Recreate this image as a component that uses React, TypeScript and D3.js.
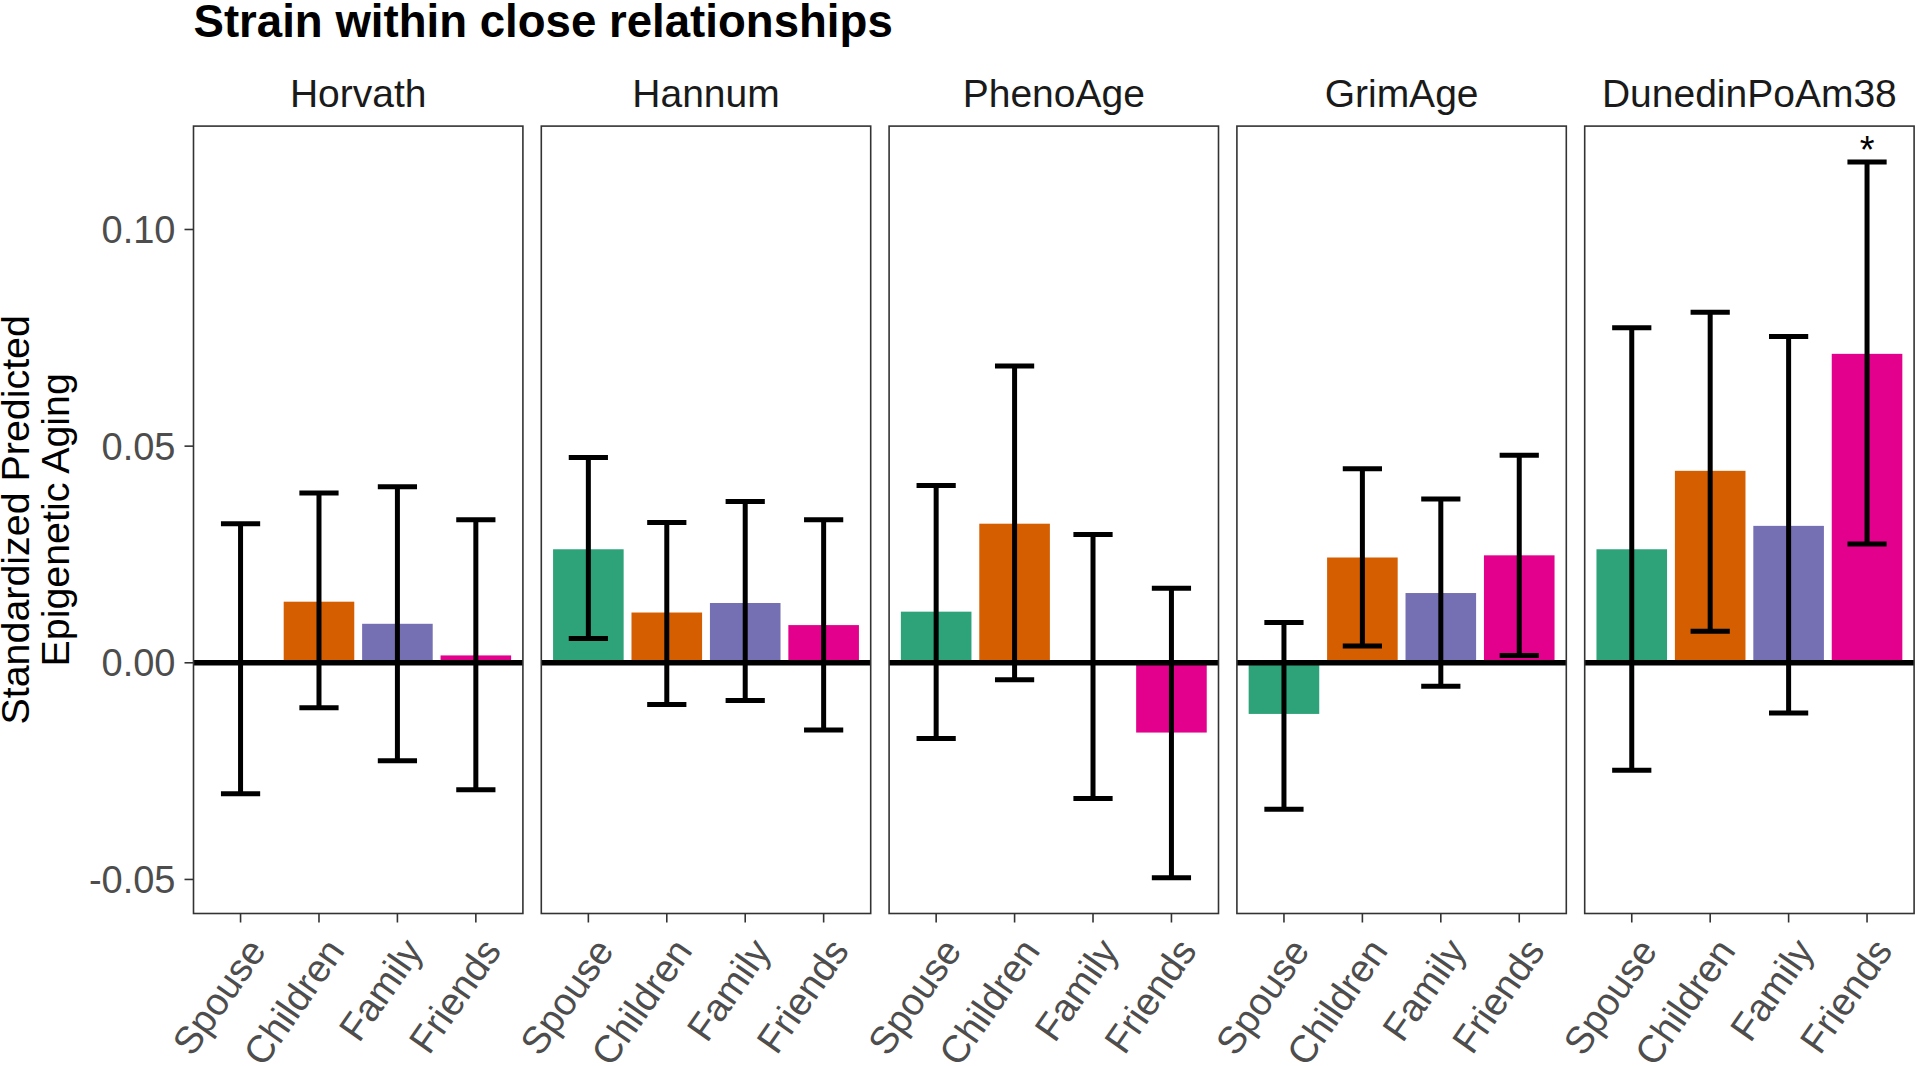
import React from "react";
import * as d3 from "d3";

const clocks = ["Horvath", "Hannum", "PhenoAge", "GrimAge", "DunedinPoAm38"];
const groups = ["Spouse", "Children", "Family", "Friends"];
const groupColors = ["#2EA37A", "#D55E00", "#7570B3", "#E3008C"];

// estimates per clock (rows) and group (columns)
const estimates = [
  [0.0005, 0.0141, 0.009, 0.0017],
  [0.0262, 0.0116, 0.0138, 0.0087],
  [0.0118, 0.0321, -0.0005, -0.0161],
  [-0.0118, 0.0243, 0.0161, 0.0248],
  [0.0262, 0.0443, 0.0316, 0.0713],
];
const lowers = [
  [-0.0302, -0.0104, -0.0226, -0.0293],
  [0.0056, -0.0096, -0.0087, -0.0155],
  [-0.0175, -0.0039, -0.0313, -0.0496],
  [-0.0338, 0.0039, -0.0054, 0.0017],
  [-0.0248, 0.0073, -0.0116, 0.0274],
];
const uppers = [
  [0.0321, 0.0392, 0.0406, 0.033],
  [0.0474, 0.0324, 0.0372, 0.033],
  [0.0409, 0.0685, 0.0296, 0.0172],
  [0.0093, 0.0448, 0.0378, 0.0479],
  [0.0773, 0.0809, 0.0753, 0.1156],
];
const significant = [
  [false, false, false, false],
  [false, false, false, false],
  [false, false, false, false],
  [false, false, false, false],
  [false, false, false, true],
];
const yTicks = [-0.05, 0, 0.05, 0.1];
const yTickLabels = ["-0.05", "0.00", "0.05", "0.10"];
const titleText = "Strain within close relationships";
const yTitleLines = ["Standardized Predicted", "Epigenetic Aging"];

const W = 1920;
const H = 1066;
const panelLeft0 = 193.5;
const panelW = 329.4;
const panelGap = 18.4;
const panelTop = 126.1;
const panelBottom = 913.5;
const FONT = "Liberation Sans, Arial, Helvetica, sans-serif";

export default function App() {
  const allLo = d3.min(lowers.flat()) as number;
  const allHi = d3.max(uppers.flat()) as number;
  const pad = (allHi - allLo) * 0.05;
  const y = d3
    .scaleLinear()
    .domain([allLo - pad, allHi + pad])
    .range([panelBottom, panelTop]);
  const x = d3.scalePoint<string>().domain(groups).range([0, panelW]).padding(0.6);
  const step = x.step();
  const barW = step * 0.9;
  const capW = step * 0.5;

  return (
    <svg
      width={W}
      height={H}
      style={{ position: "absolute", left: 0, top: 0, background: "#fff" }}
      fontFamily={FONT}
    >
      <rect x={0} y={0} width={W} height={H} fill="#fff" />
      <text x={panelLeft0} y={37} fontSize={45.6} fontWeight="bold" fill="#000">
        {titleText}
      </text>
      <text transform={`translate(0,${(panelTop + panelBottom) / 2}) rotate(-90)`} textAnchor="middle" fontSize={39.4} fill="#000">
        {yTitleLines.map((l, i) => (
          <tspan key={i} x={0} y={28.5 + i * 40}>
            {l}
          </tspan>
        ))}
      </text>
      {/* y axis ticks & labels */}
      {yTicks.map((t, i) => (
        <g key={t}>
          <line x1={panelLeft0 - 9} x2={panelLeft0} y1={y(t)} y2={y(t)} stroke="#333" strokeWidth={1.6} />
          <text x={panelLeft0 - 18} y={y(t)} dy="0.36em" textAnchor="end" fontSize={38} fill="#4D4D4D">
            {yTickLabels[i]}
          </text>
        </g>
      ))}
      {clocks.map((c, ci) => {
        const px = panelLeft0 + ci * (panelW + panelGap);
        return (
          <g key={c} transform={`translate(${px},0)`}>
            <text x={panelW / 2} y={107} textAnchor="middle" fontSize={39} fill="#1A1A1A">
              {c}
            </text>
            {groups.map((g, gi) => {
              const v = estimates[ci][gi];
              const cx = x(g) as number;
              return (
                <rect
                  key={g}
                  x={cx - barW / 2}
                  width={barW}
                  y={Math.min(y(v), y(0))}
                  height={Math.abs(y(v) - y(0))}
                  fill={groupColors[gi]}
                />
              );
            })}
            <line x1={0} x2={panelW} y1={y(0)} y2={y(0)} stroke="#000" strokeWidth={5.5} />
            {groups.map((g, gi) => {
              const cx = x(g) as number;
              const lo = y(lowers[ci][gi]);
              const hi = y(uppers[ci][gi]);
              return (
                <g key={g} stroke="#000" strokeWidth={5}>
                  <line x1={cx} x2={cx} y1={hi} y2={lo} />
                  <line x1={cx - capW / 2} x2={cx + capW / 2} y1={hi} y2={hi} />
                  <line x1={cx - capW / 2} x2={cx + capW / 2} y1={lo} y2={lo} />
                </g>
              );
            })}
            {groups.map((g, gi) =>
              significant[ci][gi] ? (
                <text key={g} x={x(g) as number} y={y(uppers[ci][gi]) + 1} textAnchor="middle" fontSize={38} fill="#000">
                  *
                </text>
              ) : null
            )}
            <rect x={0} y={panelTop} width={panelW} height={panelBottom - panelTop} fill="none" stroke="#333" strokeWidth={1.6} />
            {groups.map((g) => {
              const cx = x(g) as number;
              return (
                <g key={g}>
                  <line x1={cx} x2={cx} y1={panelBottom} y2={panelBottom + 9} stroke="#333" strokeWidth={1.6} />
                  <text
                    transform={`translate(${cx + 4},935) rotate(-55)`}
                    textAnchor="end"
                    dy="0.72em"
                    fontSize={38.5}
                    fill="#4D4D4D"
                  >
                    {g}
                  </text>
                </g>
              );
            })}
          </g>
        );
      })}
    </svg>
  );
}
